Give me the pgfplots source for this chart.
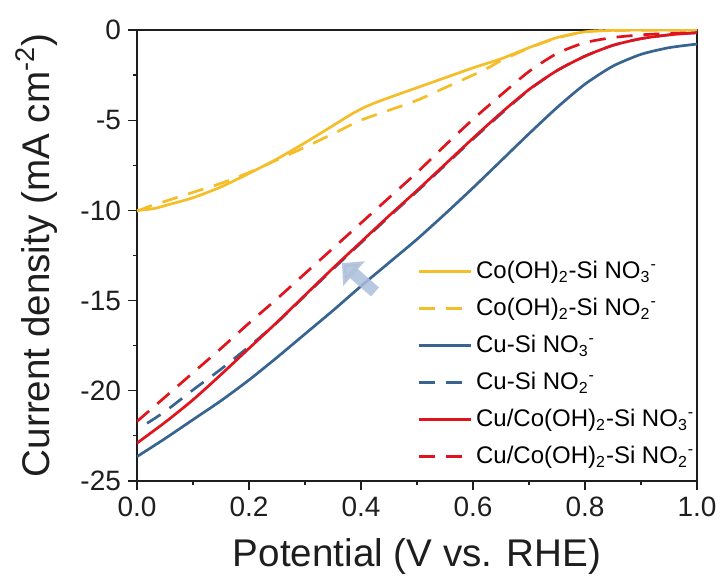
\documentclass[border=0pt]{standalone}
\usepackage{pgfplots}
\pgfplotsset{compat=1.18}
\usepackage{fontspec}
\setmainfont{Liberation Sans}
\usetikzlibrary{arrows.meta}
\definecolor{cyel}{RGB}{245,190,40}
\definecolor{cblu}{RGB}{55,100,145}
\definecolor{cred}{RGB}{225,20,30}
\definecolor{carr}{RGB}{172,190,218}
\definecolor{ctxt}{RGB}{30,30,30}
\begin{document}
\begin{tikzpicture}
\begin{axis}[
  scale only axis, width=280pt, height=225.5pt,
  xmin=0, xmax=1, ymin=-25, ymax=0,
  xtick={0,0.2,...,1.0}, ytick={-25,-20,...,0},
  minor x tick num=1, minor y tick num=1,
  tick pos=left, tick align=outside,
  major tick length=4.5pt, minor tick length=2pt,
  axis line style={color=ctxt, line width=0.6pt},
  every tick/.style={color=ctxt, line width=0.6pt},
  /pgf/number format/assume math mode=true,
  xticklabel style={/pgf/number format/fixed, /pgf/number format/precision=1, /pgf/number format/fixed zerofill},
  tick label style={font=\fontsize{14}{16}\selectfont, color=ctxt},
  xlabel={Potential (V vs. RHE)},
  ylabel={Current density (mA cm\textsuperscript{-2})},
  label style={font=\fontsize{19.3}{22}\selectfont, color=ctxt},
  xlabel style={at={(axis description cs:0.5,0)}, anchor=center, yshift=-38pt},
  ylabel style={at={(axis description cs:-0.18,0.5)}, anchor=center},
  legend cell align=left,
  legend style={at={(rel axis cs:0.5,0.497)}, anchor=north west, draw=none, fill=none,
    font=\fontsize{12}{14}\selectfont, row sep=4.3pt, inner sep=0pt},
  legend image code/.code={\draw[#1] (0pt,0pt) -- (26pt,0pt);},
  every axis plot/.append style={line width=1.35pt, smooth, tension=0.4},
]
\addplot[cyel, solid] coordinates {
(0,-10.0) (0.03,-9.9) (0.06,-9.65) (0.1,-9.3) (0.15,-8.7) (0.2,-7.95) (0.25,-7.15) (0.3,-6.25) (0.35,-5.3) (0.38,-4.72) (0.4,-4.38) (0.42,-4.1) (0.45,-3.75) (0.5,-3.2) (0.55,-2.65) (0.6,-2.1) (0.65,-1.6) (0.7,-0.98) (0.75,-0.42) (0.8,-0.1) (0.85,-0.02) (0.9,0) (1.0,0)};
\addlegendentry{Co(OH)\textsubscript{2}-Si NO\textsubscript{3}\textsuperscript{-}}
\addplot[cyel, dash pattern=on 8pt off 5.5pt] coordinates {
(0,-10.05) (0.02,-9.8) (0.05,-9.5) (0.1,-9.0) (0.15,-8.5) (0.2,-7.9) (0.25,-7.2) (0.3,-6.5) (0.35,-5.75) (0.4,-5.0) (0.45,-4.45) (0.5,-3.9) (0.55,-3.2) (0.6,-2.5) (0.63,-2.05) (0.65,-1.7) (0.7,-1.0) (0.75,-0.45) (0.8,-0.1) (0.85,-0.03) (1.0,0)};
\addlegendentry{Co(OH)\textsubscript{2}-Si NO\textsubscript{2}\textsuperscript{-}}
\addplot[cblu, solid] coordinates {
(0,-23.65) (0.05,-22.65) (0.1,-21.6) (0.15,-20.55) (0.2,-19.4) (0.25,-18.15) (0.3,-16.85) (0.35,-15.55) (0.4,-14.2) (0.45,-12.9) (0.5,-11.6) (0.55,-10.2) (0.6,-8.75) (0.65,-7.25) (0.7,-5.75) (0.75,-4.3) (0.8,-3.0) (0.85,-2.0) (0.9,-1.35) (0.95,-0.98) (1.0,-0.78)};
\addlegendentry{Cu-Si NO\textsubscript{3}\textsuperscript{-}}
\addplot[cblu, dash pattern=on 8pt off 5.5pt] coordinates {
(0.018,-21.8) (0.05,-21.15) (0.1,-19.95) (0.15,-18.8) (0.2,-17.55) (0.25,-16.22) (0.3,-14.73) (0.35,-13.25) (0.4,-11.8) (0.45,-10.35) (0.5,-8.95) (0.55,-7.5) (0.6,-6.05) (0.65,-4.65) (0.7,-3.32) (0.75,-2.25) (0.8,-1.45) (0.85,-0.85) (0.9,-0.48) (0.95,-0.27) (1.0,-0.15)};
\addlegendentry{Cu-Si NO\textsubscript{2}\textsuperscript{-}}
\addplot[cred, solid] coordinates {
(0,-22.9) (0.05,-21.75) (0.1,-20.5) (0.15,-19.1) (0.2,-17.65) (0.25,-16.2) (0.3,-14.7) (0.35,-13.2) (0.4,-11.75) (0.45,-10.3) (0.5,-8.9) (0.55,-7.45) (0.6,-6.0) (0.65,-4.6) (0.7,-3.3) (0.75,-2.25) (0.8,-1.45) (0.85,-0.85) (0.9,-0.48) (0.95,-0.27) (1.0,-0.15)};
\addlegendentry{Cu/Co(OH)\textsubscript{2}-Si NO\textsubscript{3}\textsuperscript{-}}
\addplot[cred, dash pattern=on 8pt off 5.5pt] coordinates {
(0,-21.7) (0.05,-20.35) (0.1,-19.0) (0.15,-17.65) (0.2,-16.25) (0.25,-14.9) (0.3,-13.5) (0.35,-12.1) (0.4,-10.7) (0.45,-9.3) (0.5,-7.9) (0.55,-6.4) (0.6,-4.95) (0.65,-3.6) (0.7,-2.3) (0.75,-1.3) (0.8,-0.7) (0.85,-0.42) (0.9,-0.27) (0.95,-0.19) (1.0,-0.15)};
\addlegendentry{Cu/Co(OH)\textsubscript{2}-Si NO\textsubscript{2}\textsuperscript{-}}
\draw[carr, opacity=0.85, line width=6pt, -{Triangle[width=16pt,length=8pt]}] (axis cs:0.425,-14.52) -- (axis cs:0.366,-12.92);
\end{axis}
\pgfresetboundingbox
\path (-68.5pt,-50pt) rectangle (292pt,240.5pt);
\end{tikzpicture}
\end{document}
